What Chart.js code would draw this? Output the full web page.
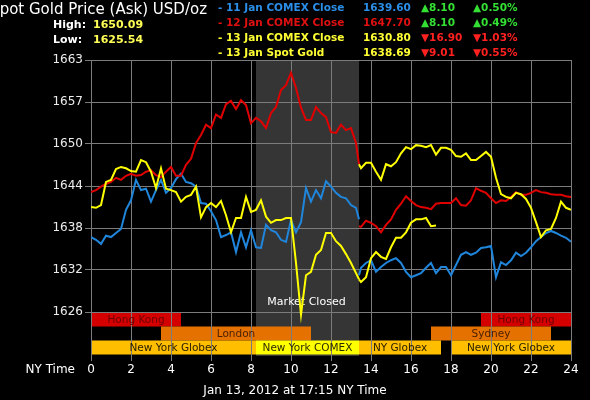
<!DOCTYPE html>
<html><head><meta charset="utf-8">
<script src="https://cdn.jsdelivr.net/npm/chart.js@4"></script>
<style>html,body{margin:0;padding:0;background:#000;overflow:hidden}#c{display:block}</style>
</head><body>
<canvas id="c" width="590" height="400"></canvas>
<script>
// ---- data ----
const amTimes = [0,0.25,0.5,0.75,1,1.25,1.5,1.75,2,2.25,2.5,2.75,3,3.25,3.5,3.75,4,4.25,4.5,4.75,5,5.25,5.5,5.75,6,6.25,6.5,6.75,7,7.25,7.5,7.75,8,8.25,8.5,8.75,9,9.25,9.5,9.75,10,10.25,10.5,10.75,11,11.25,11.5,11.75,12,12.25,12.5,12.75,13,13.25,13.4];
const pmTimes = [13.4,13.5,13.75,14,14.25,14.5,14.75,15,15.25,15.5,15.75,16,16.25,16.5,16.75,17,17.25,17.5,17.75,18,18.25,18.5,18.75,19,19.25,19.5,19.75,20,20.25,20.5,20.75,21,21.25,21.5,21.75,22,22.25,22.5,22.75,23,23.25,23.5,23.75,24];
const spotTimes = [13.4,13.5,13.75,14,14.25,14.5,14.75,15,15.25,15.5,15.75,16,16.25,16.5,16.75,17,17.25];

const blueAM = [1637.0,1636.6,1636.0,1637.2,1637.0,1637.6,1638.2,1641.0,1642.4,1645.4,1643.9,1644.1,1642.2,1643.9,1645.4,1643.5,1644.2,1645.5,1646.3,1645.1,1644.9,1644.4,1642.0,1641.9,1640.8,1639.5,1637.0,1637.3,1637.7,1634.8,1637.7,1635.5,1638.0,1635.5,1635.4,1638.8,1638.0,1637.7,1636.6,1636.3,1639.5,1637.7,1639.2,1644.2,1642.2,1643.9,1642.7,1645.2,1644.4,1643.5,1642.9,1642.7,1641.7,1641.3,1639.6];
const bluePM = [1631.4,1632.5,1633.2,1633.6,1631.9,1632.6,1633.2,1633.6,1633.9,1633.2,1631.9,1631.1,1631.4,1631.7,1632.5,1633.2,1631.7,1632.6,1632.6,1631.4,1632.9,1634.4,1634.8,1634.4,1634.7,1635.4,1635.5,1635.7,1631.1,1633.3,1632.9,1633.6,1634.7,1634.2,1634.7,1635.5,1636.4,1637.0,1637.6,1637.9,1637.6,1637.2,1636.9,1636.3];
const redAM = [1643.6,1643.9,1644.4,1644.8,1645.1,1645.7,1645.4,1646.0,1646.3,1646.0,1646.1,1646.6,1646.8,1646.1,1645.8,1646.6,1647.3,1646.0,1646.0,1647.6,1648.5,1650.8,1652.0,1653.5,1653.0,1655.0,1654.5,1656.5,1657.0,1655.8,1657.1,1656.4,1653.7,1654.5,1654.0,1653.0,1655.2,1656.1,1658.6,1659.3,1661.1,1658.9,1656.0,1654.2,1654.2,1656.1,1655.2,1654.6,1652.4,1652.3,1653.5,1652.7,1653.0,1650.8,1647.7];
const redPM = [1638.6,1638.5,1639.4,1639.1,1638.6,1637.7,1638.8,1639.6,1641.0,1641.9,1643.0,1642.3,1641.7,1641.4,1641.3,1641.1,1641.9,1642.0,1642.0,1642.0,1642.7,1641.7,1641.6,1642.4,1644.2,1643.8,1643.5,1642.7,1642.0,1642.4,1642.3,1642.9,1643.6,1643.2,1643.2,1643.5,1643.9,1643.6,1643.5,1643.3,1643.2,1643.2,1643.0,1642.9];
const yellowAM = [1641.4,1641.3,1641.7,1645.1,1645.4,1647.0,1647.3,1647.1,1646.7,1646.6,1648.3,1648.0,1646.6,1644.2,1647.1,1644.1,1643.9,1643.6,1642.2,1642.9,1643.2,1644.4,1639.9,1641.4,1642.0,1641.4,1642.3,1640.2,1637.7,1639.8,1639.8,1642.9,1640.7,1641.0,1642.4,1640.0,1639.1,1639.5,1639.5,1639.8,1639.8,1633.2,1625.6,1631.4,1631.9,1634.4,1635.1,1637.6,1637.6,1636.4,1635.7,1634.5,1633.2,1631.7,1630.8];
const yellowPM = [1647.7,1647.1,1647.9,1647.9,1646.6,1645.4,1647.7,1647.4,1648.0,1649.3,1650.2,1649.9,1650.5,1650.4,1650.2,1650.5,1649.1,1650.1,1650.1,1649.8,1648.9,1648.8,1649.3,1648.3,1648.3,1648.9,1649.5,1648.8,1645.7,1643.3,1642.9,1642.7,1643.5,1643.3,1642.6,1641.3,1639.2,1637.0,1638.0,1638.2,1639.8,1642.2,1641.3,1641.0];
const spotVals = [1630.8,1630.4,1631.1,1633.9,1634.8,1634.1,1633.8,1635.5,1636.9,1636.9,1637.7,1639.1,1639.6,1639.6,1639.8,1638.6,1638.7];

const yTickValues = [1626,1632.17,1638.33,1644.5,1650.67,1656.83,1663];
const yTickLabels = ['1626','1632','1638','1644','1650','1657','1663'];
const xTickValues = [0,2,4,6,8,10,12,14,16,18,20,22,24];
const yMin = 1619.54, yMax = 1663;

const closedStart = 8.25, closedEnd = 13.4;
// session bands: [row, start, end, label]
const bandRows = [0,0,1,1,2,2,2,2];
const bandStarts = [0,19.5,3.5,17,0,8.25,13.4,18];
const bandEnds = [4.5,24,11,23,8.25,13.4,17.5,24];
const bandLabels = ['Hong Kong','Hong Kong','London','Sydney','New York Globex','New York COMEX','NY Globex','New York Globex'];
const bandKinds = ['hk','hk','eu','eu','ny','comex','ny','ny'];

const legendLabels = ['- 11 Jan COMEX Close','- 12 Jan COMEX Close','- 13 Jan COMEX Close','- 13 Jan Spot Gold'];
const legendValues = ['1639.60','1647.70','1630.80','1638.69'];
const legendChanges = ['8.10','8.10','16.90','9.01'];
const legendPcts = ['0.50%','0.49%','1.03%','0.55%'];
const legendUp = [true,true,false,false];

// ---- styles ----
const C_BLUE = '#1f86dc', C_RED = '#e00000', C_YEL = '#ffff00';
const legendColors = ['#2b8ee8','#e01010','#ffff33','#ffff33'];
const bandFill = {hk:'#d40000', eu:'#e57200', ny:'#ffbf00', comex:'#ffff00'};
const bandText = {hk:'#6e0000', eu:'#4a2000', ny:'#2a2000', comex:'#2a2a00'};
const FONT = 'DejaVu Sans';

function pts(times, vals){ return times.map((t,i)=>({x:t, y:vals[i]})); }
const gap = [{x:13.4, y:null}];

const deco = {
  id:'deco',
  beforeDraw(chart){
    const {ctx, chartArea:a, scales:{x,y}} = chart;
    ctx.save();
    ctx.fillStyle = '#000';
    ctx.fillRect(0,0,chart.width,chart.height);
    const x0 = x.getPixelForValue(closedStart), x1 = x.getPixelForValue(closedEnd);
    ctx.fillStyle = '#353535';
    ctx.fillRect(x0, a.top, x1-x0, a.bottom-a.top);
    const top = Math.round(y.getPixelForValue(1626)) + 0.5;
    const rh = 14;
    for (let i=0;i<bandRows.length;i++){
      const bx0 = x.getPixelForValue(bandStarts[i]), bx1 = x.getPixelForValue(bandEnds[i]);
      ctx.fillStyle = bandFill[bandKinds[i]];
      ctx.fillRect(bx0, top + bandRows[i]*rh, bx1-bx0, rh);
    }
    ctx.restore();
  },
  beforeDatasetsDraw(chart){
    const {ctx, scales:{x,y}} = chart;
    ctx.save();
    const top = Math.round(y.getPixelForValue(1626)) + 0.5;
    const rh = 14;
    ctx.font = '10.5px "'+FONT+'"';
    ctx.textAlign = 'center'; ctx.textBaseline = 'middle';
    for (let i=0;i<bandRows.length;i++){
      const cx = (x.getPixelForValue(bandStarts[i]) + x.getPixelForValue(bandEnds[i]))/2;
      ctx.fillStyle = bandText[bandKinds[i]];
      ctx.fillText(bandLabels[i], cx, top + bandRows[i]*rh + rh/2 + 0.5);
    }
    ctx.font = '11px "'+FONT+'"';
    ctx.fillStyle = '#ffffff';
    ctx.fillText('Market Closed', (x.getPixelForValue(closedStart)+x.getPixelForValue(closedEnd))/2 - 1, 302);
    ctx.restore();
  },
  afterDraw(chart){
    const {ctx} = chart;
    ctx.save();
    ctx.textBaseline = 'middle';
    // title
    ctx.font = '15px "'+FONT+'"';
    ctx.fillStyle = '#ffffff';
    ctx.textAlign = 'right';
    ctx.fillText('Spot Gold Price (Ask) USD/oz', 207, 10);
    // high / low
    ctx.textAlign = 'left';
    ctx.font = 'bold 11px "'+FONT+'"';
    ctx.fillStyle = '#ffffff';
    ctx.fillText('High:', 53, 25);
    ctx.fillText('Low:', 53, 40);
    ctx.fillStyle = '#ffff55';
    ctx.fillText('1650.09', 93, 25);
    ctx.fillText('1625.54', 93, 40);
    // legend
    ctx.font = 'bold 10.5px "'+FONT+'"';
    const rowsY = [8, 23, 38, 53];
    for (let i=0;i<legendLabels.length;i++){
      const yy = rowsY[i];
      ctx.fillStyle = legendColors[i];
      ctx.fillText(legendLabels[i], 218, yy);
      ctx.fillText(legendValues[i], 363, yy);
      ctx.fillStyle = legendUp[i] ? '#33e033' : '#ff2020';
      const ar = legendUp[i] ? '\u25B2' : '\u25BC';
      ctx.fillText(ar + legendChanges[i], 421, yy);
      ctx.fillText(ar + legendPcts[i], 473, yy);
    }
    // axis caption + footer
    ctx.font = '12px "'+FONT+'"';
    ctx.fillStyle = '#ffffff';
    ctx.textAlign = 'right';
    ctx.fillText('NY Time', 75, 370);
    ctx.textAlign = 'center';
    ctx.fillText('Jan 13, 2012 at 17:15 NY Time', 295, 391);
    ctx.restore();
  }
};

new Chart(document.getElementById('c'), {
  type:'line',
  data:{ datasets:[
    {label:'13 Jan Spot Gold', data: pts(spotTimes, spotVals), borderColor:C_YEL},
    {label:'13 Jan COMEX Close', data: pts(amTimes, yellowAM).concat(gap, pts(pmTimes, yellowPM)), borderColor:C_YEL},
    {label:'12 Jan COMEX Close', data: pts(amTimes, redAM).concat(gap, pts(pmTimes, redPM)), borderColor:C_RED},
    {label:'11 Jan COMEX Close', data: pts(amTimes, blueAM).concat(gap, pts(pmTimes, bluePM)), borderColor:C_BLUE}
  ]},
  options:{
    responsive:false, animation:false, devicePixelRatio:1,
    layout:{padding:{top:60, right:19, left:0, bottom:0}},
    elements:{ line:{borderWidth:2, tension:0, fill:false}, point:{radius:0, hoverRadius:0} },
    spanGaps:false,
    plugins:{ legend:{display:false}, tooltip:{enabled:false} },
    scales:{
      x:{ type:'linear', min:0, max:24,
        afterBuildTicks(s){ s.ticks = xTickValues.map(v=>({value:v})); },
        afterFit(s){ s.height = 44; },
        ticks:{ color:'#ffffff', font:{family:FONT, size:12}, padding:2, maxRotation:0, autoSkip:false },
        grid:{ color:'#7c7c7c', lineWidth:1, tickLength:5 },
        border:{ display:false }
      },
      y:{ type:'linear', min:yMin, max:yMax,
        afterBuildTicks(s){ s.ticks = yTickValues.map(v=>({value:v})); },
        afterFit(s){ s.width = 91; },
        ticks:{ color:'#ececec', font:{family:FONT, size:12}, padding:2, autoSkip:false, callback:(v,i)=>yTickLabels[i] },
        grid:{ color:'#7c7c7c', lineWidth:1, tickLength:6 },
        border:{ display:true, color:'#7c7c7c' }
      }
    }
  },
  plugins:[deco]
});
</script>
</body></html>
